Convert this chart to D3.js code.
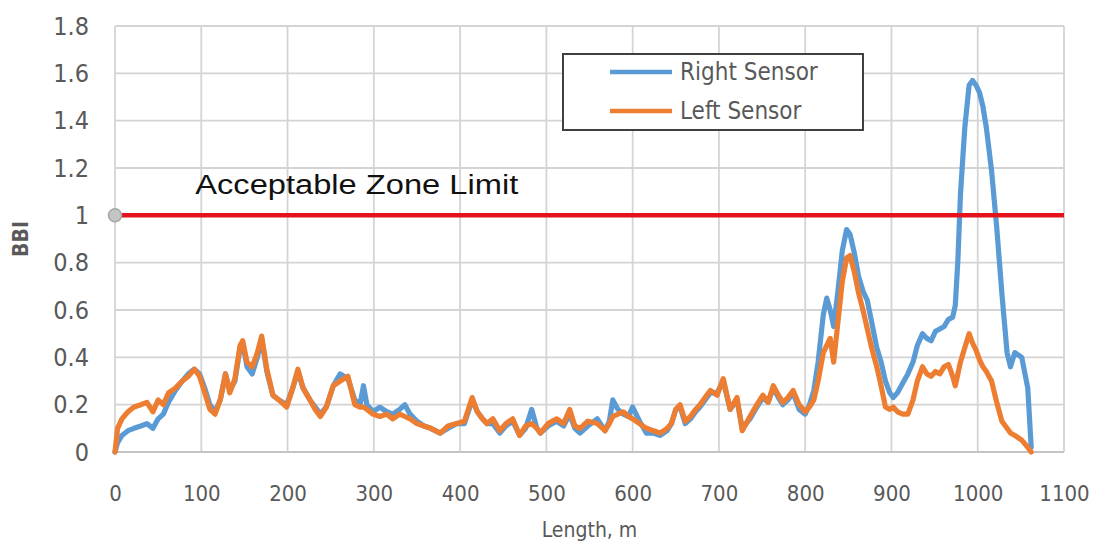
<!DOCTYPE html>
<html>
<head>
<meta charset="utf-8">
<script src="https://cdn.jsdelivr.net/npm/d3@7"></script>
<style>
  body { margin: 0; background: #fff; }
  svg { display: block; }
</style>
</head>
<body>
<svg id="chart" width="1104" height="550"></svg>
<script>
// length along the section, m
var lengths = [0, 3, 8, 15, 22, 30, 37, 44, 50, 56, 62, 70, 78, 85, 92, 98, 104, 110, 116, 122,
  128, 133, 139, 145, 148, 153, 159, 165, 170, 176, 183, 190, 199, 206, 212, 218, 226, 232, 238, 245,
  253, 261, 270, 278, 284, 288, 292, 299, 307, 315, 322, 330, 336, 342, 350, 358, 366, 377, 386, 396,
  405, 414, 420, 426, 431, 438, 446, 453, 461, 469, 476, 483, 489, 493, 502, 512, 520, 527, 533, 539,
  548, 559, 568, 573, 577, 583, 589, 595, 600, 608, 616, 624, 632, 640, 645, 650, 655, 661, 667, 673,
  678, 684, 690, 698, 705, 713, 721, 727, 736, 744, 751, 757, 763, 769, 774, 780, 786, 793, 800, 805,
  810, 815, 821, 825, 829, 833, 838, 843, 848, 852, 857, 862, 867, 872, 877, 883, 888, 893, 898, 902,
  907, 913, 919, 925, 930, 936, 941, 946, 951, 956, 961, 966, 971, 974, 977, 980, 985, 990, 994, 998,
  1002, 1006, 1010, 1016, 1022, 1028, 1034, 1038, 1043, 1051, 1058, 1062];

var rightSensor = [0.00, 0.04, 0.07, 0.09, 0.10, 0.11, 0.12, 0.10, 0.14, 0.16, 0.21, 0.26, 0.30, 0.33, 0.35, 0.33, 0.27, 0.20, 0.17, 0.22,
  0.33, 0.26, 0.30, 0.44, 0.46, 0.36, 0.33, 0.40, 0.48, 0.34, 0.24, 0.22, 0.20, 0.27, 0.34, 0.27, 0.22, 0.19, 0.16, 0.19,
  0.28, 0.33, 0.31, 0.22, 0.20, 0.28, 0.20, 0.17, 0.19, 0.17, 0.16, 0.18, 0.20, 0.16, 0.13, 0.11, 0.10, 0.08, 0.10, 0.12,
  0.12, 0.22, 0.17, 0.14, 0.12, 0.12, 0.08, 0.11, 0.13, 0.07, 0.10, 0.18, 0.10, 0.08, 0.11, 0.13, 0.11, 0.16, 0.10, 0.08,
  0.11, 0.14, 0.09, 0.13, 0.22, 0.18, 0.16, 0.15, 0.19, 0.13, 0.08, 0.08, 0.07, 0.09, 0.12, 0.18, 0.19, 0.12, 0.14, 0.17,
  0.19, 0.22, 0.25, 0.25, 0.30, 0.18, 0.22, 0.10, 0.14, 0.19, 0.23, 0.21, 0.27, 0.23, 0.20, 0.22, 0.25, 0.18, 0.16, 0.20,
  0.26, 0.38, 0.58, 0.65, 0.60, 0.53, 0.68, 0.85, 0.94, 0.92, 0.84, 0.74, 0.68, 0.64, 0.55, 0.44, 0.38, 0.30, 0.25, 0.23,
  0.25, 0.29, 0.33, 0.38, 0.45, 0.50, 0.48, 0.47, 0.51, 0.52, 0.53, 0.56, 0.57, 0.62, 0.81, 1.09, 1.37, 1.55, 1.57, 1.55,
  1.52, 1.46, 1.37, 1.19, 0.95, 0.67, 0.42, 0.36, 0.42, 0.40, 0.27, 0.02];

var leftSensor = [0.00, 0.10, 0.14, 0.17, 0.19, 0.20, 0.21, 0.17, 0.22, 0.20, 0.25, 0.27, 0.30, 0.32, 0.35, 0.32, 0.25, 0.18, 0.16, 0.22,
  0.33, 0.25, 0.31, 0.45, 0.47, 0.38, 0.36, 0.42, 0.49, 0.35, 0.24, 0.22, 0.19, 0.27, 0.35, 0.27, 0.22, 0.18, 0.15, 0.19,
  0.28, 0.30, 0.32, 0.20, 0.19, 0.19, 0.18, 0.16, 0.15, 0.16, 0.14, 0.16, 0.15, 0.14, 0.12, 0.11, 0.10, 0.08, 0.11, 0.12,
  0.13, 0.23, 0.17, 0.14, 0.12, 0.14, 0.09, 0.12, 0.14, 0.07, 0.11, 0.12, 0.10, 0.08, 0.12, 0.14, 0.12, 0.18, 0.11, 0.10,
  0.13, 0.12, 0.09, 0.12, 0.15, 0.16, 0.17, 0.15, 0.14, 0.12, 0.10, 0.09, 0.08, 0.10, 0.12, 0.18, 0.20, 0.13, 0.15, 0.18,
  0.20, 0.23, 0.26, 0.24, 0.31, 0.18, 0.23, 0.09, 0.15, 0.20, 0.24, 0.21, 0.28, 0.24, 0.21, 0.23, 0.26, 0.20, 0.17, 0.19,
  0.22, 0.30, 0.42, 0.45, 0.48, 0.38, 0.55, 0.72, 0.82, 0.83, 0.76, 0.67, 0.60, 0.52, 0.44, 0.36, 0.28, 0.19, 0.18, 0.19,
  0.17, 0.16, 0.16, 0.22, 0.30, 0.36, 0.33, 0.32, 0.34, 0.33, 0.36, 0.37, 0.32, 0.28, 0.33, 0.38, 0.44, 0.50, 0.46, 0.43,
  0.39, 0.36, 0.34, 0.30, 0.21, 0.13, 0.10, 0.08, 0.07, 0.05, 0.02, 0.00];

var xTicks = [0, 100, 200, 300, 400, 500, 600, 700, 800, 900, 1000, 1100];
var yTicks = [0, 0.2, 0.4, 0.6, 0.8, 1, 1.2, 1.4, 1.6, 1.8];
var limitValue = 1;
var series = [
  {name: "Right Sensor", values: rightSensor, color: "#5b9bd5"},
  {name: "Left Sensor", values: leftSensor, color: "#ed7d31"}
];

var svg = d3.select("#chart");
var margin = {top: 26, right: 40, bottom: 98, left: 115},
    width = +svg.attr("width") - margin.left - margin.right,
    height = +svg.attr("height") - margin.top - margin.bottom;

var labelFont = "'Liberation Sans Narrow', 'DejaVu Sans Condensed', 'Noto Sans', sans-serif";

var g = svg.append("g")
    .attr("transform", "translate(" + margin.left + "," + margin.top + ")");

var x = d3.scaleLinear().domain([0, 1100]).range([0, width]);
var y = d3.scaleLinear().domain([0, 1.8]).range([height, 0]);

// grid
g.append("g")
    .selectAll("line")
    .data(xTicks)
    .enter().append("line")
    .attr("x1", function(d) { return x(d); })
    .attr("x2", function(d) { return x(d); })
    .attr("y1", 0)
    .attr("y2", height)
    .style("stroke", "#d4d4d4")
    .style("stroke-width", 1.8);

g.append("g")
    .selectAll("line")
    .data(yTicks)
    .enter().append("line")
    .attr("x1", 0)
    .attr("x2", width)
    .attr("y1", function(d) { return y(d); })
    .attr("y2", function(d) { return y(d); })
    .style("stroke", function(d) { return d === 0 ? "#c4c4c4" : "#d4d4d4"; })
    .style("stroke-width", 1.8);

// axes (labels only)
var xAxis = g.append("g")
    .attr("transform", "translate(0," + height + ")")
    .call(d3.axisBottom(x).tickValues(xTicks).tickSize(0).tickPadding(33).tickFormat(d3.format("d")));
xAxis.select(".domain").remove();
xAxis.selectAll("text")
    .style("font-family", labelFont)
    .style("font-size", "22px")
    .style("fill", "#595959");

var yAxis = g.append("g")
    .call(d3.axisLeft(y).tickValues(yTicks).tickSize(0).tickPadding(26).tickFormat(function(d) { return d3.format("~g")(d); }));
yAxis.select(".domain").remove();
yAxis.selectAll("text")
    .style("font-family", labelFont)
    .style("font-size", "25px")
    .style("fill", "#595959");

// axis titles
svg.append("text")
    .attr("x", margin.left + width / 2)
    .attr("y", 537)
    .attr("text-anchor", "middle")
    .style("font-family", labelFont)
    .style("font-size", "21px")
    .style("fill", "#595959")
    .text("Length, m");

svg.append("text")
    .attr("transform", "translate(28," + (margin.top + y(0.9)) + ") rotate(-90)")
    .attr("text-anchor", "middle")
    .style("font-family", labelFont)
    .style("font-size", "21px")
    .style("font-weight", "bold")
    .style("fill", "#595959")
    .text("BBI");

// sensor lines
var line = d3.line()
    .x(function(d, i) { return x(lengths[i]); })
    .y(function(d) { return y(d); });

g.selectAll(".sensor")
    .data(series)
    .enter().append("path")
    .attr("class", "sensor")
    .attr("d", function(d) { return line(d.values); })
    .style("fill", "none")
    .style("stroke", function(d) { return d.color; })
    .style("stroke-width", 5.2)
    .style("stroke-linejoin", "round")
    .style("stroke-linecap", "round");

// acceptable zone limit
g.append("line")
    .attr("x1", x(0))
    .attr("x2", x(1100))
    .attr("y1", y(limitValue))
    .attr("y2", y(limitValue))
    .style("stroke", "#e3121b")
    .style("stroke-width", 4.5);

g.append("circle")
    .attr("cx", x(0))
    .attr("cy", y(limitValue))
    .attr("r", 6.5)
    .style("fill", "#c4c4c4")
    .style("stroke", "#a6a6a6")
    .style("stroke-width", 1.5);

g.append("text")
    .attr("x", x(93))
    .attr("y", y(limitValue) - 21)
    .attr("textLength", 323)
    .attr("lengthAdjust", "spacingAndGlyphs")
    .style("font-family", "'Liberation Sans', Arial, sans-serif")
    .style("font-size", "27px")
    .style("fill", "#111")
    .text("Acceptable Zone Limit");

// legend
var legend = svg.append("g").attr("transform", "translate(563,54)");
legend.append("rect")
    .attr("width", 300)
    .attr("height", 76)
    .style("fill", "#fff")
    .style("stroke", "#404040")
    .style("stroke-width", 2);

var items = legend.selectAll(".item")
    .data(series)
    .enter().append("g")
    .attr("transform", function(d, i) { return "translate(0," + (18 + i * 39) + ")"; });

items.append("line")
    .attr("x1", 47)
    .attr("x2", 109)
    .style("stroke", function(d) { return d.color; })
    .style("stroke-width", 4.5);

items.append("text")
    .attr("x", 117)
    .attr("dy", "0.35em")
    .style("font-family", labelFont)
    .style("font-size", "24px")
    .style("fill", "#595959")
    .text(function(d) { return d.name; });
</script>
</body>
</html>
